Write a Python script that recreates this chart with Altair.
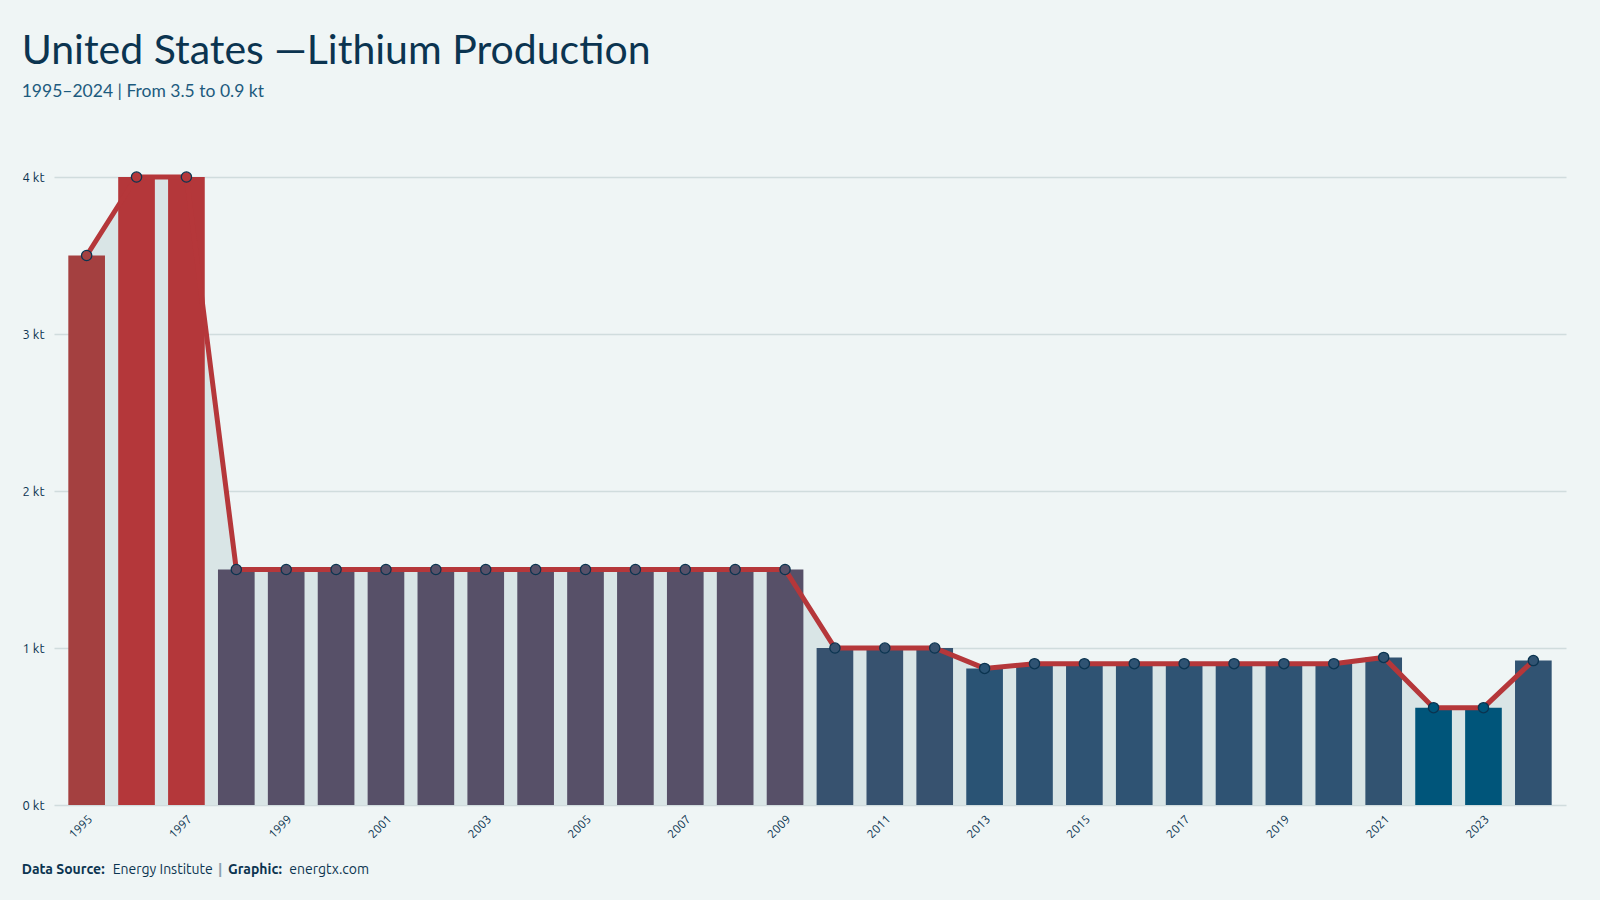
import altair as alt
import pandas as pd

# Annual US lithium production, kilotonnes
years = list(range(1995, 2025))
production_kt = [
    3.5, 4.0, 4.0,
    1.5, 1.5, 1.5, 1.5, 1.5, 1.5, 1.5, 1.5, 1.5, 1.5, 1.5, 1.5,
    1.0, 1.0, 1.0, 0.87,
    0.9, 0.9, 0.9, 0.9, 0.9, 0.9, 0.9,
    0.94, 0.62, 0.62, 0.92,
]
tick_years = [y for y in years if y % 2 == 1]

title_text = "United States —Lithium Production"
subtitle_text = "1995–2024 | From 3.5 to 0.9 kt"

df = pd.DataFrame({"year": years, "kt": production_kt})

BG = "#eff5f5"
NAVY = "#0b3450"
LINE_RED = "#b5373a"
FONT = "Ubuntu, Noto Sans, DejaVu Sans"
COND = "Ubuntu Condensed, Lato, Roboto, Noto Sans"

x = alt.X(
    "year:O",
    title=None,
    scale=alt.Scale(paddingInner=0.265, paddingOuter=0.287),
    axis=alt.Axis(
        values=tick_years, labelAngle=-45, labelFontSize=12, labelColor=NAVY,
        labelFont=FONT, ticks=False, domain=False, labelPadding=8,
    ),
)
y = alt.Y(
    "kt:Q",
    title=None,
    scale=alt.Scale(domain=[0, 4], nice=False),
    axis=alt.Axis(
        values=[0, 1, 2, 3, 4], labelExpr="format(datum.value, 'd') + ' kt'",
        labelFontSize=13, labelColor=NAVY, labelFont=FONT, ticks=False,
        domain=False, labelPadding=10, gridColor="#d0dcdd", gridWidth=1.6,
    ),
)

# bar and marker colour follows the production value, from teal-blue (low) to red (high)
value_scale = alt.Scale(
    domain=[0.62, 0.9, 1.0, 1.5, 3.5, 4.0],
    range=["#00557a", "#2f5373", "#37526f", "#575068", "#a44040", "#b4373a"],
    interpolate="rgb",
)

base = alt.Chart(df)
area = base.mark_area(color="#d9e5e6").encode(x=x, y=y)
bars = base.mark_bar().encode(
    x=x, y=y, color=alt.Color("kt:Q", legend=None, scale=value_scale)
)
line = base.mark_line(color=LINE_RED, strokeWidth=5).encode(x=x, y=y)
points = base.mark_point(filled=True, size=105, stroke=NAVY, strokeWidth=1.3, opacity=1).encode(
    x=x, y=y, fill=alt.Fill("kt:Q", legend=None, scale=value_scale)
)


def label(text, px, py, size, color, weight="normal", font=FONT):
    return alt.Chart(pd.DataFrame({"t": [text]})).mark_text(
        align="left", baseline="alphabetic", fontSize=size, color=color,
        fontWeight=weight, font=font,
    ).encode(text="t:N", x=alt.value(px), y=alt.value(py))


title = label(title_text, -32.3, -112.7, 41, NAVY, font=COND)
subtitle = label(subtitle_text, -32.3, -79.7, 17.5, "#1d5b7e", font=COND)
footer = [
    label("Data Source:", -32.3, 697, 14, NAVY, "bold"),
    label("Energy Institute", 58.7, 697, 14, NAVY),
    label("|", 164, 697, 14, "#8aa0ad", "bold"),
    label("Graphic:", 174, 697, 14, NAVY, "bold"),
    label("energtx.com", 235.3, 697, 14, NAVY),
]

chart = alt.layer(area, bars, line, points, title, subtitle, *footer).properties(
    width=1512,
    height=628,
    autosize=alt.AutoSizeParams(type="none"),
    padding={"left": 54, "top": 177, "right": 34, "bottom": 95},
    background=BG,
).configure_view(stroke=None)

chart.save("out.html", embed_options={"renderer": "svg", "actions": False})
